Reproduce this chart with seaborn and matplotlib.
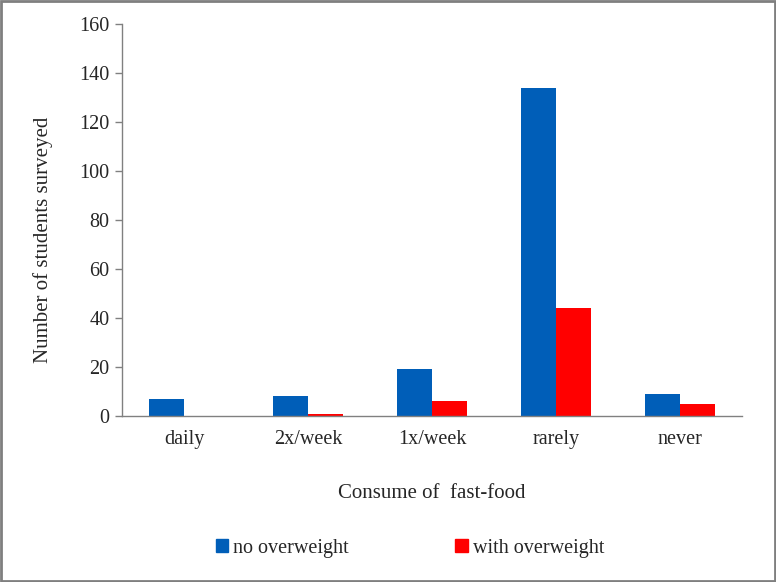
import matplotlib.pyplot as plt
import matplotlib as mpl
import seaborn as sns
import pandas as pd
import numpy as np

sns.set_style('white')
plt.rcParams['font.family'] = ['Liberation Serif', 'DejaVu Serif']

categories = ['daily', '2x/week', '1x/week', 'rarely', 'never']
no_overweight = [7, 8, 19, 134, 9]
with_overweight = [0, 1, 6, 44, 5]
series = ['no overweight', 'with overweight']
colors = ['#005EB8', '#FF0000']

df = pd.DataFrame({
    'cat': categories * 2,
    'value': no_overweight + with_overweight,
    'group': [series[0]] * 5 + [series[1]] * 5,
})

fs = 14.5
fig = plt.figure(figsize=(7.76, 5.82), dpi=100)
ax = fig.add_axes([122 / 776, 1 - 416 / 582, 620 / 776, 392 / 582])

sns.barplot(data=df, x='cat', y='value', hue='group', palette=colors,
            width=0.57, saturation=1, linewidth=0, ax=ax, legend=False)

ax.set_ylim(0, 160)
ax.set_xlim(-0.5, 4.5)
ax.set_yticks(np.arange(0, 161, 20))
ax.set_xticks(np.arange(-0.5, 5, 1), minor=True)
ax.tick_params(axis='x', which='major', length=0, pad=10, labelsize=fs)
ax.tick_params(axis='x', which='minor', length=5, color='#808080', width=1)
ax.tick_params(axis='y', length=5, color='#808080', width=1, labelsize=fs, pad=4)
ax.tick_params(axis='both', direction='out', left=True, bottom=True)
for s in ['top', 'right']:
    ax.spines[s].set_visible(False)
for s in ['left', 'bottom']:
    ax.spines[s].set_color('#808080')
    ax.spines[s].set_linewidth(1)
ax.set_xlabel('Consume of  fast-food', fontsize=15, labelpad=25)
ax.set_ylabel('Number of students surveyed', fontsize=15)
ax.yaxis.set_label_coords(-0.112, 0.449)

handles = [mpl.patches.Patch(color=c, label=s) for c, s in zip(colors, series)]
fig.legend(handles=handles, loc='center', bbox_to_anchor=(410 / 776, 1 - 548 / 582),
           ncol=2, frameon=False, fontsize=fs, handlelength=0.6,
           handleheight=0.6, handletextpad=0.25, columnspacing=5.3)

fig.add_artist(mpl.patches.Rectangle((0.0015, 0.002), 0.997, 0.996,
                                     transform=fig.transFigure, fill=False,
                                     edgecolor='#7f7f7f', linewidth=2))

fig.savefig('out.png', dpi=100)
